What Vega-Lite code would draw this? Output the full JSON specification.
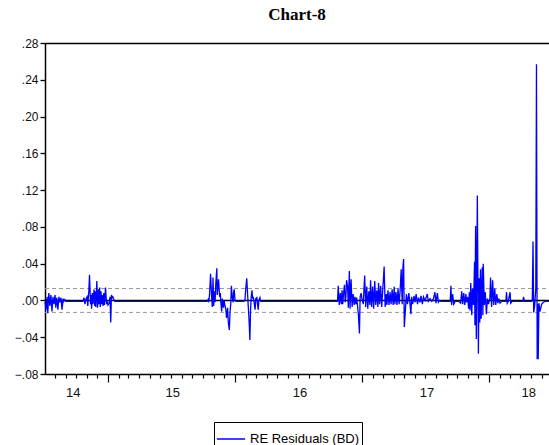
{
  "$schema": "https://vega.github.io/schema/vega-lite/v6.json",
  "width": 504,
  "height": 331,
  "autosize": {"type": "none"},
  "padding": {"left": 45, "top": 43, "right": 0, "bottom": 71},
  "background": "white",
  "view": {"stroke": null},
  "title": {"text": "Chart-8", "font": "Liberation Serif", "fontSize": 17, "fontWeight": "bold", "color": "black", "anchor": "middle", "offset": 13},
  "config": {
    "axis": {"grid": false, "title": null, "labelFont": "Liberation Sans", "labelFontSize": 12, "labelColor": "#111", "domainColor": "black", "tickColor": "black", "ticks": true}
  },
  "datasets": {
    "resid": [
      {"date": "2014-07-04", "resid": -0.002}, {"date": "2014-07-07", "resid": -0.010}, {"date": "2014-07-10", "resid": 0.004},
      {"date": "2014-07-12", "resid": -0.014}, {"date": "2014-07-15", "resid": 0.008}, {"date": "2014-07-18", "resid": -0.006},
      {"date": "2014-07-21", "resid": 0.006}, {"date": "2014-07-24", "resid": -0.012}, {"date": "2014-07-27", "resid": 0.004},
      {"date": "2014-07-30", "resid": -0.004}, {"date": "2014-08-02", "resid": 0.006}, {"date": "2014-08-04", "resid": -0.008},
      {"date": "2014-08-07", "resid": 0.003}, {"date": "2014-08-10", "resid": -0.010}, {"date": "2014-08-13", "resid": 0.004},
      {"date": "2014-08-16", "resid": -0.002}, {"date": "2014-08-19", "resid": 0.003}, {"date": "2014-08-22", "resid": -0.010},
      {"date": "2014-08-25", "resid": 0.002}, {"date": "2014-08-27", "resid": -0.001}, {"date": "2014-08-30", "resid": 0.001},
      {"date": "2014-09-02", "resid": -0.001}, {"date": "2014-10-21", "resid": -0.001},
      {"date": "2014-10-24", "resid": 0.003}, {"date": "2014-10-27", "resid": -0.004}, {"date": "2014-10-30", "resid": 0.002},
      {"date": "2014-11-02", "resid": 0.004}, {"date": "2014-11-04", "resid": -0.006}, {"date": "2014-11-07", "resid": 0.010},
      {"date": "2014-11-09", "resid": 0.028}, {"date": "2014-11-12", "resid": -0.004}, {"date": "2014-11-13", "resid": 0.006},
      {"date": "2014-11-15", "resid": -0.009}, {"date": "2014-11-17", "resid": 0.008}, {"date": "2014-11-19", "resid": -0.004},
      {"date": "2014-11-22", "resid": 0.012}, {"date": "2014-11-24", "resid": -0.006}, {"date": "2014-11-26", "resid": 0.010},
      {"date": "2014-11-27", "resid": -0.007}, {"date": "2014-11-30", "resid": 0.021}, {"date": "2014-12-02", "resid": -0.008},
      {"date": "2014-12-05", "resid": 0.012}, {"date": "2014-12-06", "resid": -0.004}, {"date": "2014-12-08", "resid": 0.014},
      {"date": "2014-12-10", "resid": -0.007}, {"date": "2014-12-12", "resid": 0.010}, {"date": "2014-12-14", "resid": -0.004},
      {"date": "2014-12-16", "resid": 0.006}, {"date": "2014-12-18", "resid": -0.006}, {"date": "2014-12-20", "resid": 0.008},
      {"date": "2014-12-22", "resid": -0.005}, {"date": "2014-12-25", "resid": 0.014}, {"date": "2014-12-28", "resid": -0.004},
      {"date": "2014-12-30", "resid": -0.002}, {"date": "2015-01-01", "resid": -0.005}, {"date": "2015-01-04", "resid": -0.003},
      {"date": "2015-01-07", "resid": 0.004}, {"date": "2015-01-09", "resid": -0.024}, {"date": "2015-01-11", "resid": 0.006},
      {"date": "2015-01-13", "resid": 0.003}, {"date": "2015-01-15", "resid": 0.004}, {"date": "2015-01-18", "resid": 0.001},
      {"date": "2015-01-21", "resid": -0.001}, {"date": "2015-10-13", "resid": -0.001},
      {"date": "2015-10-16", "resid": 0.001}, {"date": "2015-10-18", "resid": -0.002}, {"date": "2015-10-20", "resid": 0.006},
      {"date": "2015-10-23", "resid": 0.029}, {"date": "2015-10-26", "resid": 0.004}, {"date": "2015-10-28", "resid": -0.007},
      {"date": "2015-10-30", "resid": 0.025}, {"date": "2015-11-01", "resid": -0.006}, {"date": "2015-11-03", "resid": 0.010},
      {"date": "2015-11-05", "resid": -0.002}, {"date": "2015-11-07", "resid": 0.018}, {"date": "2015-11-10", "resid": 0.035},
      {"date": "2015-11-11", "resid": 0.006}, {"date": "2015-11-13", "resid": 0.014}, {"date": "2015-11-15", "resid": 0.023},
      {"date": "2015-11-18", "resid": 0.004}, {"date": "2015-11-20", "resid": 0.008}, {"date": "2015-11-22", "resid": -0.004},
      {"date": "2015-11-24", "resid": -0.012}, {"date": "2015-11-26", "resid": 0.002}, {"date": "2015-11-29", "resid": -0.008},
      {"date": "2015-12-01", "resid": 0.000}, {"date": "2015-12-03", "resid": -0.005}, {"date": "2015-12-06", "resid": -0.010},
      {"date": "2015-12-08", "resid": -0.019}, {"date": "2015-12-11", "resid": -0.008}, {"date": "2015-12-13", "resid": -0.024},
      {"date": "2015-12-16", "resid": -0.032}, {"date": "2015-12-18", "resid": -0.012}, {"date": "2015-12-20", "resid": -0.004},
      {"date": "2015-12-22", "resid": 0.016}, {"date": "2015-12-24", "resid": 0.004}, {"date": "2015-12-27", "resid": -0.002},
      {"date": "2015-12-28", "resid": 0.008}, {"date": "2015-12-30", "resid": 0.012}, {"date": "2016-01-01", "resid": 0.001},
      {"date": "2016-01-04", "resid": -0.001}, {"date": "2016-01-27", "resid": -0.001},
      {"date": "2016-01-30", "resid": 0.001}, {"date": "2016-02-01", "resid": 0.012}, {"date": "2016-02-04", "resid": 0.024},
      {"date": "2016-02-06", "resid": 0.010}, {"date": "2016-02-08", "resid": -0.004}, {"date": "2016-02-11", "resid": -0.024},
      {"date": "2016-02-13", "resid": -0.043}, {"date": "2016-02-15", "resid": -0.010}, {"date": "2016-02-17", "resid": 0.004},
      {"date": "2016-02-19", "resid": 0.011}, {"date": "2016-02-21", "resid": 0.002}, {"date": "2016-02-23", "resid": 0.004},
      {"date": "2016-02-25", "resid": -0.002}, {"date": "2016-02-28", "resid": -0.010}, {"date": "2016-03-01", "resid": 0.002},
      {"date": "2016-03-04", "resid": 0.003}, {"date": "2016-03-06", "resid": -0.004}, {"date": "2016-03-08", "resid": -0.010},
      {"date": "2016-03-10", "resid": 0.000}, {"date": "2016-03-13", "resid": 0.003}, {"date": "2016-03-15", "resid": -0.001},
      {"date": "2016-10-22", "resid": -0.001},
      {"date": "2016-10-24", "resid": 0.016}, {"date": "2016-10-27", "resid": -0.005}, {"date": "2016-10-30", "resid": 0.008},
      {"date": "2016-11-02", "resid": -0.004}, {"date": "2016-11-04", "resid": 0.011}, {"date": "2016-11-06", "resid": -0.004},
      {"date": "2016-11-08", "resid": 0.006}, {"date": "2016-11-11", "resid": 0.017}, {"date": "2016-11-13", "resid": -0.002},
      {"date": "2016-11-15", "resid": 0.004}, {"date": "2016-11-17", "resid": 0.022}, {"date": "2016-11-20", "resid": 0.015},
      {"date": "2016-11-22", "resid": -0.008}, {"date": "2016-11-25", "resid": 0.032}, {"date": "2016-11-27", "resid": -0.009},
      {"date": "2016-11-30", "resid": 0.023}, {"date": "2016-12-03", "resid": -0.007}, {"date": "2016-12-06", "resid": 0.007},
      {"date": "2016-12-09", "resid": -0.005}, {"date": "2016-12-11", "resid": 0.004}, {"date": "2016-12-14", "resid": -0.004},
      {"date": "2016-12-16", "resid": 0.003}, {"date": "2016-12-18", "resid": -0.004}, {"date": "2016-12-21", "resid": -0.015},
      {"date": "2016-12-24", "resid": -0.036}, {"date": "2016-12-26", "resid": 0.004}, {"date": "2016-12-29", "resid": 0.008},
      {"date": "2016-12-31", "resid": 0.002}, {"date": "2017-01-04", "resid": -0.004}, {"date": "2017-01-08", "resid": 0.027},
      {"date": "2017-01-11", "resid": -0.007}, {"date": "2017-01-14", "resid": 0.015}, {"date": "2017-01-17", "resid": -0.009},
      {"date": "2017-01-20", "resid": 0.010}, {"date": "2017-01-23", "resid": -0.005}, {"date": "2017-01-25", "resid": 0.022},
      {"date": "2017-01-28", "resid": -0.007}, {"date": "2017-01-31", "resid": 0.015}, {"date": "2017-02-03", "resid": -0.009},
      {"date": "2017-02-06", "resid": 0.021}, {"date": "2017-02-09", "resid": -0.005}, {"date": "2017-02-12", "resid": 0.011},
      {"date": "2017-02-15", "resid": -0.007}, {"date": "2017-02-17", "resid": 0.019}, {"date": "2017-02-20", "resid": -0.004},
      {"date": "2017-02-23", "resid": 0.016}, {"date": "2017-02-26", "resid": -0.007}, {"date": "2017-03-01", "resid": 0.011},
      {"date": "2017-03-05", "resid": 0.037}, {"date": "2017-03-08", "resid": -0.007}, {"date": "2017-03-11", "resid": 0.007},
      {"date": "2017-03-13", "resid": -0.005}, {"date": "2017-03-16", "resid": 0.011}, {"date": "2017-03-19", "resid": -0.005},
      {"date": "2017-03-22", "resid": 0.009}, {"date": "2017-03-25", "resid": -0.004}, {"date": "2017-03-28", "resid": 0.012},
      {"date": "2017-03-31", "resid": -0.005}, {"date": "2017-04-03", "resid": 0.015}, {"date": "2017-04-05", "resid": -0.004},
      {"date": "2017-04-08", "resid": 0.009}, {"date": "2017-04-11", "resid": -0.005}, {"date": "2017-04-14", "resid": 0.013},
      {"date": "2017-04-17", "resid": -0.004}, {"date": "2017-04-20", "resid": 0.011}, {"date": "2017-04-23", "resid": 0.034},
      {"date": "2017-04-26", "resid": -0.004}, {"date": "2017-04-28", "resid": 0.036}, {"date": "2017-04-30", "resid": 0.045},
      {"date": "2017-05-02", "resid": -0.029}, {"date": "2017-05-05", "resid": -0.011}, {"date": "2017-05-08", "resid": 0.007},
      {"date": "2017-05-11", "resid": -0.004}, {"date": "2017-05-15", "resid": 0.008}, {"date": "2017-05-18", "resid": -0.002},
      {"date": "2017-05-21", "resid": -0.015}, {"date": "2017-05-23", "resid": 0.004}, {"date": "2017-05-26", "resid": -0.004},
      {"date": "2017-05-30", "resid": 0.005}, {"date": "2017-06-02", "resid": -0.002}, {"date": "2017-06-05", "resid": 0.007},
      {"date": "2017-06-09", "resid": -0.004}, {"date": "2017-06-12", "resid": 0.003}, {"date": "2017-06-16", "resid": -0.002},
      {"date": "2017-06-19", "resid": 0.005}, {"date": "2017-06-23", "resid": -0.004}, {"date": "2017-06-26", "resid": 0.004},
      {"date": "2017-07-01", "resid": 0.000}, {"date": "2017-07-07", "resid": 0.007}, {"date": "2017-07-10", "resid": -0.001},
      {"date": "2017-07-15", "resid": 0.002}, {"date": "2017-07-20", "resid": -0.001}, {"date": "2017-07-25", "resid": 0.002},
      {"date": "2017-07-29", "resid": 0.009}, {"date": "2017-08-01", "resid": -0.003}, {"date": "2017-08-05", "resid": 0.008},
      {"date": "2017-08-08", "resid": -0.002}, {"date": "2017-08-11", "resid": 0.000}, {"date": "2017-08-15", "resid": -0.001},
      {"date": "2017-09-11", "resid": -0.001}, {"date": "2017-09-13", "resid": 0.016}, {"date": "2017-09-15", "resid": -0.005},
      {"date": "2017-09-18", "resid": 0.007}, {"date": "2017-09-21", "resid": -0.004}, {"date": "2017-09-25", "resid": -0.001},
      {"date": "2017-10-05", "resid": -0.001}, {"date": "2017-10-11", "resid": -0.003}, {"date": "2017-10-14", "resid": 0.010},
      {"date": "2017-10-17", "resid": -0.004}, {"date": "2017-10-20", "resid": 0.008}, {"date": "2017-10-23", "resid": -0.005},
      {"date": "2017-10-26", "resid": 0.007}, {"date": "2017-10-28", "resid": -0.002}, {"date": "2017-10-31", "resid": 0.004},
      {"date": "2017-11-03", "resid": -0.009}, {"date": "2017-11-05", "resid": 0.009}, {"date": "2017-11-07", "resid": -0.011},
      {"date": "2017-11-09", "resid": 0.019}, {"date": "2017-11-12", "resid": -0.016}, {"date": "2017-11-14", "resid": 0.013},
      {"date": "2017-11-17", "resid": -0.005}, {"date": "2017-11-20", "resid": 0.042}, {"date": "2017-11-21", "resid": -0.027},
      {"date": "2017-11-23", "resid": 0.081}, {"date": "2017-11-25", "resid": -0.042}, {"date": "2017-11-28", "resid": 0.114},
      {"date": "2017-12-01", "resid": -0.058}, {"date": "2017-12-03", "resid": 0.024}, {"date": "2017-12-05", "resid": -0.024},
      {"date": "2017-12-07", "resid": 0.034}, {"date": "2017-12-09", "resid": -0.020}, {"date": "2017-12-12", "resid": 0.036},
      {"date": "2017-12-14", "resid": -0.016}, {"date": "2017-12-15", "resid": 0.040}, {"date": "2017-12-18", "resid": -0.005},
      {"date": "2017-12-21", "resid": 0.009}, {"date": "2017-12-24", "resid": -0.015}, {"date": "2017-12-27", "resid": 0.002},
      {"date": "2017-12-30", "resid": -0.004}, {"date": "2018-01-03", "resid": 0.002}, {"date": "2018-01-05", "resid": 0.025},
      {"date": "2018-01-08", "resid": -0.007}, {"date": "2018-01-11", "resid": 0.022}, {"date": "2018-01-14", "resid": -0.005},
      {"date": "2018-01-17", "resid": 0.013}, {"date": "2018-01-20", "resid": -0.005}, {"date": "2018-01-23", "resid": 0.007},
      {"date": "2018-01-26", "resid": -0.003}, {"date": "2018-01-29", "resid": 0.002}, {"date": "2018-02-01", "resid": -0.003},
      {"date": "2018-02-06", "resid": -0.001}, {"date": "2018-02-18", "resid": -0.001}, {"date": "2018-02-20", "resid": 0.009},
      {"date": "2018-02-22", "resid": -0.003}, {"date": "2018-02-25", "resid": -0.001}, {"date": "2018-03-02", "resid": 0.009},
      {"date": "2018-03-04", "resid": -0.003}, {"date": "2018-03-08", "resid": -0.001}, {"date": "2018-04-08", "resid": -0.001},
      {"date": "2018-04-10", "resid": 0.004}, {"date": "2018-04-12", "resid": -0.001}, {"date": "2018-05-03", "resid": -0.001},
      {"date": "2018-05-05", "resid": 0.001}, {"date": "2018-05-07", "resid": 0.064}, {"date": "2018-05-09", "resid": -0.013},
      {"date": "2018-05-12", "resid": -0.005}, {"date": "2018-05-15", "resid": 0.013}, {"date": "2018-05-17", "resid": 0.257},
      {"date": "2018-05-19", "resid": -0.064}, {"date": "2018-05-20", "resid": -0.004}, {"date": "2018-05-22", "resid": -0.064},
      {"date": "2018-05-24", "resid": -0.003}, {"date": "2018-05-27", "resid": -0.012}, {"date": "2018-06-01", "resid": -0.004},
      {"date": "2018-06-06", "resid": -0.002}, {"date": "2018-06-11", "resid": -0.001}, {"date": "2018-06-22", "resid": -0.001}
    ],
    "upper": [{"start": "2014-07-04", "end": "2018-06-22", "level": 0.013}],
    "lower": [{"start": "2014-07-04", "end": "2018-06-22", "level": -0.013}],
    "zero": [{"start": "2014-07-04", "end": "2018-06-22", "level": 0}]
  },
  "resolve": {"axis": {"x": "independent"}},
  "layer": [
    {
      "data": {"name": "upper"},
      "mark": {"type": "rule", "color": "#999999", "strokeDash": [4, 3], "strokeWidth": 1},
      "encoding": {
        "x": {"field": "start", "type": "temporal",
          "scale": {"type": "utc", "domain": [{"year": 2014, "month": 7, "date": 4, "utc": true}, {"year": 2018, "month": 6, "date": 22, "utc": true}]},
          "axis": {"orient": "top", "ticks": false, "labels": false, "domain": true, "domainWidth": 1.5, "title": null}},
        "x2": {"field": "end"},
        "y": {"field": "level", "type": "quantitative", "scale": {"domain": [-0.08, 0.28], "nice": false, "zero": false},
          "axis": {"values": [-0.08, -0.04, 0, 0.04, 0.08, 0.12, 0.16, 0.2, 0.24, 0.28], "labelExpr": "replace(format(datum.value, '.2f'), '0.', '.')", "ticks": true, "tickSize": 5, "tickWidth": 1.3, "domainWidth": 1.5, "labelPadding": 2, "title": null}}
      }
    },
    {
      "data": {"name": "lower"},
      "mark": {"type": "rule", "color": "#999999", "strokeDash": [4, 3], "strokeWidth": 1},
      "encoding": {
        "x": {"field": "start", "type": "temporal", "axis": null},
        "x2": {"field": "end"},
        "y": {"field": "level", "type": "quantitative",
          "axis": {"values": [-0.08, -0.04, 0, 0.04, 0.08, 0.12, 0.16, 0.2, 0.24, 0.28], "labelExpr": "replace(format(datum.value, '.2f'), '0.', '.')", "ticks": true, "tickSize": 5, "tickWidth": 1.3, "domainWidth": 1.5, "labelPadding": 2, "title": null}}
      }
    },
    {
      "data": {"name": "zero"},
      "mark": {"type": "rule", "color": "black", "strokeWidth": 1.5},
      "encoding": {
        "x": {"field": "start", "type": "temporal", "axis": null},
        "x2": {"field": "end"},
        "y": {"field": "level", "type": "quantitative",
          "axis": {"values": [-0.08, -0.04, 0, 0.04, 0.08, 0.12, 0.16, 0.2, 0.24, 0.28], "labelExpr": "replace(format(datum.value, '.2f'), '0.', '.')", "ticks": true, "tickSize": 5, "tickWidth": 1.3, "domainWidth": 1.5, "labelPadding": 2, "title": null}}
      }
    },
    {
      "data": {"name": "resid"},
      "mark": {"type": "line", "strokeWidth": 1.3, "interpolate": "linear"},
      "encoding": {
        "x": {"field": "date", "type": "temporal",
          "axis": {"orient": "bottom", "values": [
            {"year": 2014, "month": 8, "date": 1, "utc": true}, {"year": 2014, "month": 9, "date": 1, "utc": true}, {"year": 2014, "month": 9, "date": 22, "utc": true}, {"year": 2014, "month": 10, "date": 1, "utc": true}, {"year": 2014, "month": 11, "date": 1, "utc": true}, {"year": 2014, "month": 12, "date": 1, "utc": true},
            {"year": 2015, "month": 1, "date": 1, "utc": true}, {"year": 2015, "month": 2, "date": 1, "utc": true}, {"year": 2015, "month": 3, "date": 1, "utc": true}, {"year": 2015, "month": 4, "date": 1, "utc": true}, {"year": 2015, "month": 5, "date": 1, "utc": true}, {"year": 2015, "month": 6, "date": 1, "utc": true}, {"year": 2015, "month": 7, "date": 1, "utc": true}, {"year": 2015, "month": 7, "date": 5, "utc": true}, {"year": 2015, "month": 8, "date": 1, "utc": true}, {"year": 2015, "month": 9, "date": 1, "utc": true}, {"year": 2015, "month": 10, "date": 1, "utc": true}, {"year": 2015, "month": 11, "date": 1, "utc": true}, {"year": 2015, "month": 12, "date": 1, "utc": true},
            {"year": 2016, "month": 1, "date": 1, "utc": true}, {"year": 2016, "month": 2, "date": 1, "utc": true}, {"year": 2016, "month": 3, "date": 1, "utc": true}, {"year": 2016, "month": 4, "date": 1, "utc": true}, {"year": 2016, "month": 5, "date": 1, "utc": true}, {"year": 2016, "month": 6, "date": 1, "utc": true}, {"year": 2016, "month": 7, "date": 1, "utc": true}, {"year": 2016, "month": 7, "date": 5, "utc": true}, {"year": 2016, "month": 8, "date": 1, "utc": true}, {"year": 2016, "month": 9, "date": 1, "utc": true}, {"year": 2016, "month": 10, "date": 1, "utc": true}, {"year": 2016, "month": 11, "date": 1, "utc": true}, {"year": 2016, "month": 12, "date": 1, "utc": true},
            {"year": 2017, "month": 1, "date": 1, "utc": true}, {"year": 2017, "month": 2, "date": 1, "utc": true}, {"year": 2017, "month": 3, "date": 1, "utc": true}, {"year": 2017, "month": 4, "date": 1, "utc": true}, {"year": 2017, "month": 5, "date": 1, "utc": true}, {"year": 2017, "month": 6, "date": 1, "utc": true}, {"year": 2017, "month": 7, "date": 1, "utc": true}, {"year": 2017, "month": 7, "date": 5, "utc": true}, {"year": 2017, "month": 8, "date": 1, "utc": true}, {"year": 2017, "month": 9, "date": 1, "utc": true}, {"year": 2017, "month": 10, "date": 1, "utc": true}, {"year": 2017, "month": 11, "date": 1, "utc": true}, {"year": 2017, "month": 12, "date": 1, "utc": true},
            {"year": 2018, "month": 1, "date": 1, "utc": true}, {"year": 2018, "month": 2, "date": 1, "utc": true}, {"year": 2018, "month": 3, "date": 1, "utc": true}, {"year": 2018, "month": 4, "date": 1, "utc": true}, {"year": 2018, "month": 4, "date": 23, "utc": true}, {"year": 2018, "month": 5, "date": 1, "utc": true}, {"year": 2018, "month": 6, "date": 1, "utc": true}
          ],
          "labelExpr": "utcdate(datum.value) == 1 ? '' : utcFormat(datum.value, '%y')",
          "labelOverlap": false, "labelFlush": false, "labelBound": false,
          "ticks": true,
          "tickSize": {"condition": {"test": "utcmonth(datum.value) == 0 && utcdate(datum.value) == 1", "value": 8}, "value": 4},
          "tickOpacity": {"condition": {"test": "utcdate(datum.value) != 1", "value": 0}, "value": 1},
          "tickWidth": 1.2,
          "labelPadding": 8, "domain": true, "domainWidth": 1.5, "labelFontSize": 13, "title": null}},
        "y": {"field": "resid", "type": "quantitative",
          "axis": {"values": [-0.08, -0.04, 0, 0.04, 0.08, 0.12, 0.16, 0.2, 0.24, 0.28], "labelExpr": "replace(format(datum.value, '.2f'), '0.', '.')", "ticks": true, "tickSize": 5, "tickWidth": 1.3, "domainWidth": 1.5, "labelPadding": 2, "title": null}},
        "color": {"datum": "RE Residuals (BD)", "type": "nominal", "scale": {"range": ["#0000ff"]},
          "legend": {"orient": "none", "legendX": 169, "legendY": 379, "title": null, "symbolType": "stroke", "symbolSize": 800, "symbolStrokeWidth": 1.5, "labelFont": "Liberation Sans", "labelFontSize": 13, "labelColor": "black", "strokeColor": "black", "padding": 2, "rowPadding": 0}}
      }
    }
  ]
}
